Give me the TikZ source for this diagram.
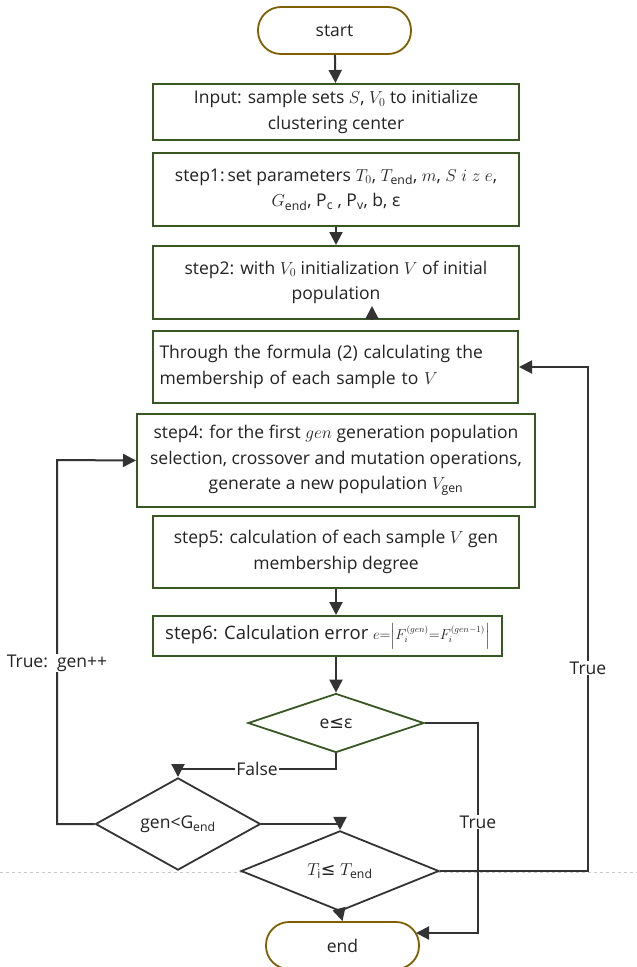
\documentclass[tikz,border=0pt]{standalone}
\usepackage{amsmath}
\usepackage{fontspec}
\setmainfont{Open Sans}
\newfontfamily\symfont{DejaVu Sans}
\usetikzlibrary{arrows.meta,shapes.geometric}
\definecolor{boxgreen}{RGB}{56,87,35}
\definecolor{termbrown}{RGB}{127,96,0}
\definecolor{linegray}{RGB}{51,51,51}
\definecolor{txtgray}{RGB}{34,34,34}
\definecolor{dashgray}{RGB}{200,200,200}
\begin{document}
\begin{tikzpicture}[x=1pt,y=-1pt,
  every node/.style={font=\fontsize{17.5pt}{25.5pt}\selectfont, text=txtgray},
  procbox/.style={draw=boxgreen, line width=2pt, fill=white, align=center, minimum width=366pt, inner sep=2pt},
  termbox/.style={draw=termbrown, line width=1.8pt, fill=white, rounded corners=23pt, minimum width=153pt, minimum height=47pt},
  decision/.style={diamond, draw=linegray, line width=1.8pt, fill=white, inner sep=0pt},
  flow/.style={draw=linegray, line width=2pt, -{Triangle[length=13pt,width=13pt]}},
  lbl/.style={fill=white, inner sep=1pt}
]
\useasboundingbox (0,0) rectangle (637,967);
\draw[dashgray, line width=1pt, dashed] (0,872) -- (637,872);

\node[termbox] (start) at (334.5,30.5) {start};
\node[procbox, minimum height=56pt] (input) at (336,112)
{Input: sample sets $S$, $V_0$ to initialize\\clustering center};
\node[procbox, minimum height=73pt] (step1) at (336,189.5)
{step1:\,set parameters $T_0$, $T_{\text{end}}$, $m$, $S\ i\ z\ e$,\\$G_{\text{end}}$, P$_{\text{c}}$ , P$_{\text{v}}$, b, ε};
\node[procbox, minimum height=73pt] (step2) at (336,282.5)
{step2: with $V_0$ initialization $V$ of initial\\population};
\node[procbox, minimum height=72pt, align=left, text width=352pt, minimum width=0pt, inner xsep=6.5pt] (memb) at (335.5,367)
{Through the formula (2) calculating the\\membership of each sample to $V$};
\node[procbox, minimum height=93pt, minimum width=398pt] (step4) at (336,460.5)
{step4: for the first $gen$ generation population\\selection, crossover and mutation operations,\\generate a new population $V_{\text{gen}}$};
\node[procbox, minimum height=72pt] (step5) at (336,552)
{step5: calculation of each sample $V$ gen\\membership degree};
\node[procbox, minimum height=40pt, minimum width=349pt, font=\fontsize{18.5pt}{24pt}\selectfont] (step6) at (327.5,636)
{step6: Calculation error {\fontsize{13.5pt}{15pt}\selectfont$e{=}\Bigl|F_i^{(gen)}{=}F_i^{(gen-1)}\Bigr|$}};
\node[decision, draw=boxgreen, minimum width=176pt, minimum height=59pt] (errchk) at (336,723)
{e{\symfont ≤}ε};
\node[decision, minimum width=165pt, minimum height=59pt] (genchk) at (178,824)
{gen<G$_{\text{end}}$};
\node[decision, minimum width=198pt, minimum height=53pt] (tempchk) at (340,871)
{$T_{\text{i}}${\symfont ≤} $T_{\text{end}}$};
\node[termbox, minimum width=153pt] (end) at (342.5,945.5) {end};

\coordinate (falsebend) at (336,769);
\coordinate (truebend) at (478,933);
\coordinate (loopleft) at (57,460);
\coordinate (loopright) at (588,367);

\draw[flow] (start) -- (input);
\draw[flow] (step1.south) -- (step2.north);
\draw[flow] ([xshift=36pt]step2.south) -- ++(0,-14);
\draw[flow] (step5.south) -- (step5.south |- step6.north);
\draw[flow] (step6.south -| errchk.north) -- (errchk.north);
\draw[flow] (errchk.south) -- (falsebend) -| (genchk.north)
  node[lbl, pos=0.25] {False};
\draw[flow] (errchk.east) -| (truebend) -- (416,933);
\node[lbl] (endlbl) at (478,822) {True};
\draw[flow] (genchk.east) -| (tempchk.north);
\draw[flow] (genchk.west) -| (loopleft) -- (step4.west);
\node[lbl] (genlbl) at (57,663) {True:\ \ gen++};
\draw[flow] (tempchk.east) -| (loopright) -- (memb.east);
\node[lbl] (templbl) at (588,668) {True};
\draw[flow] (tempchk.south) -- (end.north);
\end{tikzpicture}
\end{document}
